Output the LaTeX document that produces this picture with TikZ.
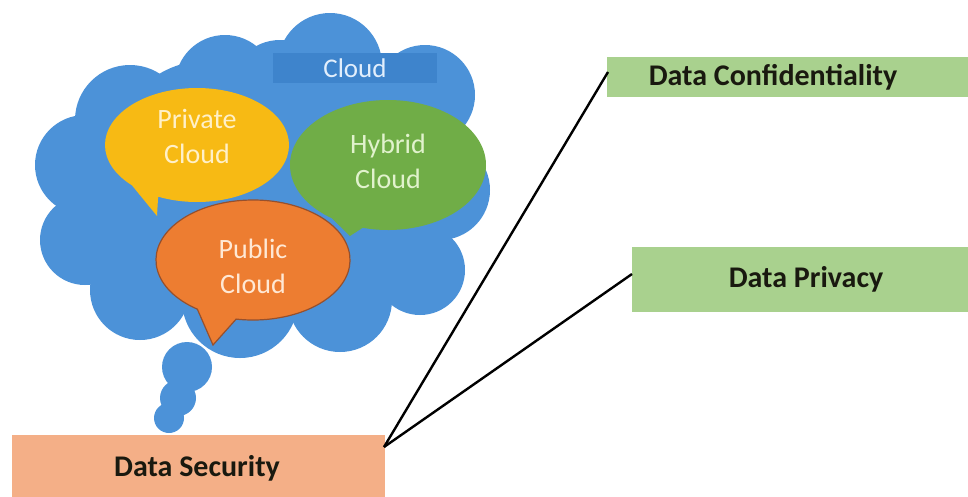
\documentclass[tikz,border=0pt]{standalone}
\usepackage{fontspec}
\setmainfont{Carlito}
\usetikzlibrary{calc}
\begin{document}
\begin{tikzpicture}[x=1pt,y=-1pt,
  greenbox/.style={fill=boxgreen, minimum height=40pt, anchor=west, inner sep=0pt},
  boxtext/.style={font=\bfseries\fontsize{30}{34}\selectfont, text=boxtxt},
  bubtext/.style={font=\fontsize{28}{35}\selectfont, align=center},
  conn/.style={line width=2.4pt, black}]
\definecolor{cloudblue}{RGB}{76,146,216}
\definecolor{labelblue}{RGB}{62,132,204}
\definecolor{boxgreen}{RGB}{169,209,142}
\definecolor{boxsalmon}{RGB}{244,175,135}
\definecolor{boxtxt}{RGB}{25,25,15}
\definecolor{privyellow}{RGB}{247,186,20}
\definecolor{hybgreen}{RGB}{112,173,71}
\definecolor{puborange}{RGB}{237,125,49}
\definecolor{pubedge}{RGB}{150,80,45}
\useasboundingbox (0,0) rectangle (968,496);
% cloud body
\fill[cloudblue] (270,190) circle[radius=130];
\foreach \cx/\cy/\r in {130/120/55, 225/85/50, 330/65/52, 425/95/50, 440/190/50, 420/270/45, 340/300/52, 240/300/58, 140/290/50, 85/240/45, 85/165/50, 160/220/65, 330/200/115, 210/160/100, 375/110/45, 280/90/50}
  \fill[cloudblue] (\cx,\cy) circle[radius=\r];
% thought bubbles
\fill[cloudblue] (187,367) circle[radius=25];
\fill[cloudblue] (178,398) circle[radius=18];
\fill[cloudblue] (169,418) circle[radius=15];
% cloud label
\node[fill=labelblue, minimum width=164pt, minimum height=30pt, inner sep=0pt, text={rgb,255:red,225;green,238;blue,252}, font=\fontsize{27}{30}\selectfont] (cloudlbl) at (355,68) {Cloud};
% private cloud
\fill[privyellow] ($(197,145)+(135:92 and 57)$) arc[start angle=135, end angle=475, x radius=92, y radius=57] -- (157,216) -- cycle;
\node[bubtext, text={rgb,255:red,255;green,240;blue,200}] (priv) at (197,136) {Private\\Cloud};
% hybrid cloud
\fill[hybgreen] ($(388,165)+(125:98 and 65)$) arc[start angle=125, end angle=465, x radius=98, y radius=65] -- (350,236) -- cycle;
\node[bubtext, text={rgb,255:red,225;green,242;blue,205}] (hyb) at (388,161) {Hybrid\\Cloud};
% public cloud
\draw[fill=puborange, draw=pubedge, line width=1.2pt] ($(253,260)+(125:97 and 60)$) arc[start angle=125, end angle=460, x radius=97, y radius=60] -- (213,345) -- cycle;
\node[bubtext, text={rgb,255:red,255;green,232;blue,212}] (pub) at (253,266) {Public\\Cloud};
% boxes
\node[fill=boxsalmon, minimum width=373pt, minimum height=64pt, inner sep=0pt, anchor=north west] (sec) at (12,435) {};
\node[boxtext] at (197,468) {Data Security};
\node[greenbox, minimum width=370pt] (conf) at (607,77) {};
\node[boxtext] at (773,77) {Data Confidentiality};
\node[greenbox, minimum width=345pt, minimum height=65pt] (priv2) at (632,279) {};
\node[boxtext] at (806,279) {Data Privacy};
% connectors
\coordinate (s) at (384,447);
\coordinate (c1) at (608,72);
\coordinate (p1) at (632,274);
\draw[conn] (s) -- (c1);
\draw[conn] (s) -- (p1);
\end{tikzpicture}
\end{document}
